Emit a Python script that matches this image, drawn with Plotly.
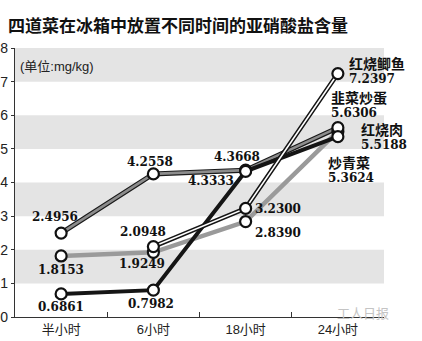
import plotly.graph_objects as go

categories = ["半小时", "6小时", "18小时", "24小时"]
dish_names = ["红烧肉", "韭菜炒蛋", "炒青菜", "红烧鲫鱼"]
hongshao_rou = [1.8153, 1.9249, 2.8390, 5.5188]
jiucai_chaodan = [2.4956, 4.2558, 4.3668, 5.6306]
chao_qingcai = [0.6861, 0.7982, 4.3333, 5.3624]
hongshao_jiyu = [None, 2.0948, 3.2300, 7.2397]
y_ticks = [0, 1, 2, 3, 4, 5, 6, 7, 8]
title_text = "四道菜在冰箱中放置不同时间的亚硝酸盐含量"
unit_text = "(单位:mg/kg)"

series = [hongshao_rou, jiucai_chaodan, chao_qingcai, hongshao_jiyu]

# line styles: list of (color, width) layers per series
styles = [
    [("#9a9a9a", 4.5)],
    [("#1a1a1a", 5), ("#8c8c8c", 2.6)],
    [("#151515", 4)],
    [("#151515", 4.6), ("#ffffff", 1.6)],
]

fig = go.Figure()

for vals, layers in zip(series, styles):
    for color, width in layers:
        fig.add_trace(go.Scatter(x=categories, y=vals, mode="lines",
                                 line=dict(color=color, width=width),
                                 connectgaps=False, hoverinfo="skip",
                                 showlegend=False))
for vals in series:
    fig.add_trace(go.Scatter(x=categories, y=vals, mode="markers",
                             marker=dict(size=11, color="white",
                                         line=dict(color="#111", width=2.2)),
                             hoverinfo="skip", showlegend=False))

num_font = dict(family="DejaVu Serif", size=12, color="#111")
end_font = dict(family="DejaVu Serif", size=11, color="#111")

# value label offsets (xshift, yshift, xanchor) for the first three points
value_offsets = [
    [(0, -14, "center"), (-11, -12, "center"), (7, -11, "left")],
    [(-6, 16, "center"), (-3, 12, "center"), (-9, 13, "center")],
    [(0, -13, "center"), (-2, -14, "center"), (-35, -10, "center")],
    [None, (-10, 15, "center"), (7, -1, "left")],
]
# end label (name + value) offsets at the last point
end_offsets = [(21, -4), (-9, 24), (-12, -32), (9, 4)]

for vals, offs in zip(series, value_offsets):
    for cat, v, off in zip(categories, vals, offs):
        if v is None or off is None:
            continue
        xs, ys, xa = off
        fig.add_annotation(x=cat, y=v, text="<b>%.4f</b>" % v, showarrow=False,
                           xshift=xs, yshift=ys, xanchor=xa, yanchor="middle",
                           font=num_font)

for name, vals, (xs, ys) in zip(dish_names, series, end_offsets):
    txt = ("<span style='font-family:Noto Sans CJK SC;font-size:14px'><b>%s</b></span>"
           "<br><span style='font-size:12px'><b>%.4f</b></span>" % (name, vals[-1]))
    fig.add_annotation(x=categories[-1], y=vals[-1], text=txt,
                       showarrow=False, xshift=xs, yshift=ys, xanchor="left",
                       yanchor="middle", align="left", font=end_font)

# gray bands
for lo in [1, 3, 5, 7]:
    fig.add_shape(type="rect", xref="paper", x0=0, x1=1, y0=lo, y1=lo + 1,
                  fillcolor="#e4e4e4", line_width=0, layer="below")

fig.add_annotation(xref="paper", yref="paper", x=0.008, y=0.93, text=unit_text,
                   showarrow=False, xanchor="left", yanchor="middle",
                   font=dict(family="Liberation Sans, Noto Sans CJK SC", size=13, color="#222"))

fig.add_annotation(xref="paper", yref="paper", x=1.02, y=0.015, text="工人日报",
                   showarrow=False, xanchor="right", yanchor="middle",
                   font=dict(family="Noto Sans CJK SC", size=13, color="#c4c4c4"))

fig.update_layout(
    width=422, height=341,
    margin=dict(l=15, r=38, t=48, b=24, autoexpand=False),
    paper_bgcolor="white", plot_bgcolor="white",
    title=dict(text="<b>%s</b>" % title_text, x=8 / 422, xanchor="left",
               y=1 - 26 / 341, yanchor="middle",
               font=dict(family="Noto Sans CJK SC", size=17, color="#111")),
    xaxis=dict(type="category", range=[-0.5, 3.5], showgrid=False,
               showline=True, linecolor="#333", linewidth=1.2,
               ticks="inside", ticklen=5, tickcolor="#333", tickson="boundaries",
               tickfont=dict(family="Liberation Sans, Noto Sans CJK SC", size=13, color="#222"),
               zeroline=False, fixedrange=True, automargin=False),
    yaxis=dict(range=[0, 8], tickvals=y_ticks, showgrid=False, zeroline=False,
               showline=True, linecolor="#333", linewidth=1.2,
               ticks="outside", ticklen=3, tickcolor="#333",
               tickfont=dict(family="Liberation Sans", size=14, color="#222"),
               fixedrange=True, automargin=False),
)

fig.write_html("out.html")
